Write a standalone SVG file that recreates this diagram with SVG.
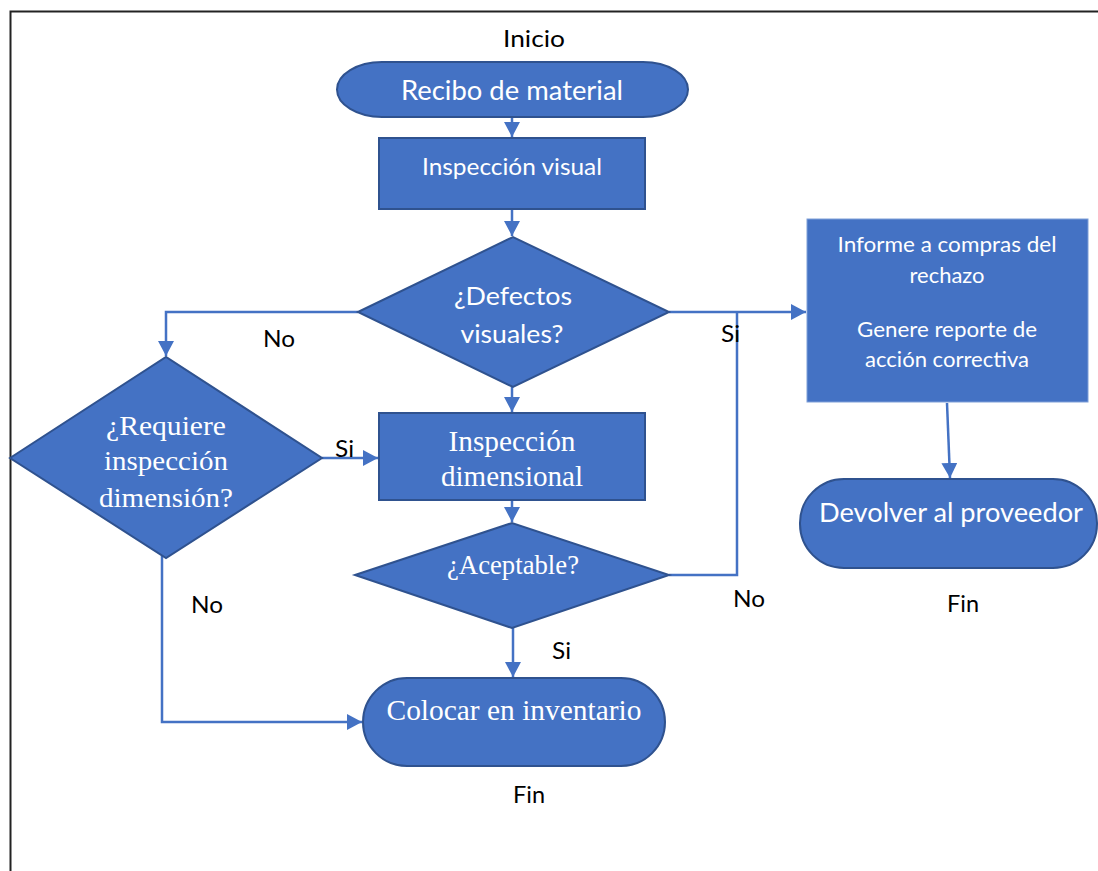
<svg xmlns="http://www.w3.org/2000/svg" width="1098" height="871" viewBox="0 0 1098 871">
  <style>
    .shape { fill: #4472C4; stroke: #2F528F; stroke-width: 2; }
    .plain { fill: #4472C4; stroke: #7F9FD8; stroke-width: 1; }
    .sans-w { font-family: Lato, "Open Sans", "Liberation Sans", sans-serif; fill: #FFFFFF; text-anchor: middle; }
    .serif-w { font-family: "Liberation Serif", "DejaVu Serif", serif; fill: #FFFFFF; text-anchor: middle; }
    .lbl { font-family: Lato, "Open Sans", "Liberation Sans", sans-serif; fill: #000000; font-size: 24px; }
    .conn { fill: none; stroke: #4472C4; stroke-width: 2.5; }
  </style>
  <defs>
    <marker id="arrow" markerUnits="userSpaceOnUse" markerWidth="16" markerHeight="16" refX="15" refY="8" orient="auto">
      <path d="M0,0 L15,8 L0,16 Z" fill="#4472C4"/>
    </marker>
  </defs>

  <rect width="1098" height="871" fill="#FFFFFF"/>
  <!-- page frame -->
  <path d="M10.5,871 V11.5 H1098" fill="none" stroke="#222222" stroke-width="2"/>

  <!-- connectors -->
  <g id="connectors">
    <path class="conn" d="M512,117 V137" marker-end="url(#arrow)"/>
    <path class="conn" d="M512,209 V236" marker-end="url(#arrow)"/>
    <path class="conn" d="M358,312 H166 V356" marker-end="url(#arrow)"/>
    <path class="conn" d="M669,312 H806" marker-end="url(#arrow)"/>
    <path class="conn" d="M512,387 V412" marker-end="url(#arrow)"/>
    <path class="conn" d="M322,458 H378" marker-end="url(#arrow)"/>
    <path class="conn" d="M512,500 V522" marker-end="url(#arrow)"/>
    <path class="conn" d="M669,575 H737 V312"/>
    <path class="conn" d="M513,628 V677" marker-end="url(#arrow)"/>
    <path class="conn" d="M162,556 V722 H362" marker-end="url(#arrow)"/>
    <path class="conn" d="M947,403 L950,478" marker-end="url(#arrow)"/>
  </g>

  <!-- connector labels -->
  <g id="labels">
    <text class="lbl" x="534" y="47" text-anchor="middle" textLength="62" lengthAdjust="spacingAndGlyphs">Inicio</text>
    <text class="lbl" x="263" y="347" textLength="32" lengthAdjust="spacingAndGlyphs">No</text>
    <text class="lbl" x="335" y="457" textLength="19" lengthAdjust="spacingAndGlyphs">Si</text>
    <text class="lbl" x="721" y="342" textLength="19" lengthAdjust="spacingAndGlyphs">Si</text>
    <text class="lbl" x="191" y="613" textLength="32" lengthAdjust="spacingAndGlyphs">No</text>
    <text class="lbl" x="733" y="607" textLength="32" lengthAdjust="spacingAndGlyphs">No</text>
    <text class="lbl" x="552" y="659" textLength="19" lengthAdjust="spacingAndGlyphs">Si</text>
    <text class="lbl" x="529" y="803" text-anchor="middle" textLength="32" lengthAdjust="spacingAndGlyphs">Fin</text>
    <text class="lbl" x="963" y="612" text-anchor="middle" textLength="32" lengthAdjust="spacingAndGlyphs">Fin</text>
  </g>

  <g id="recibo">
    <rect class="shape" x="337" y="62" width="351" height="55" rx="45" ry="27.5"/>
    <text class="sans-w" x="512" y="100" font-size="27" textLength="222" lengthAdjust="spacingAndGlyphs">Recibo de material</text>
  </g>

  <g id="insp-visual">
    <rect class="shape" x="379" y="138" width="266" height="71"/>
    <text class="sans-w" x="512" y="175" font-size="24" textLength="180" lengthAdjust="spacingAndGlyphs">Inspección visual</text>
  </g>

  <g id="defectos">
    <polygon class="shape" points="358,312 513,237 669,312 513,387"/>
    <text class="sans-w" x="513" y="305" font-size="24.5" textLength="118" lengthAdjust="spacingAndGlyphs">¿Defectos</text>
    <text class="sans-w" x="512" y="343" font-size="24.5" textLength="103" lengthAdjust="spacingAndGlyphs">visuales?</text>
  </g>

  <g id="requiere">
    <polygon class="shape" points="10,458 166,357 322,458 166,558"/>
    <text class="serif-w" x="166" y="435" font-size="28" textLength="120" lengthAdjust="spacingAndGlyphs">¿Requiere</text>
    <text class="serif-w" x="166" y="470" font-size="28" textLength="124" lengthAdjust="spacingAndGlyphs">inspección</text>
    <text class="serif-w" x="166" y="507" font-size="28" textLength="134" lengthAdjust="spacingAndGlyphs">dimensión?</text>
  </g>

  <g id="insp-dimensional">
    <rect class="shape" x="379" y="413" width="266" height="87"/>
    <text class="serif-w" x="512" y="451" font-size="29" textLength="127" lengthAdjust="spacingAndGlyphs">Inspección</text>
    <text class="serif-w" x="512" y="486" font-size="29" textLength="142" lengthAdjust="spacingAndGlyphs">dimensional</text>
  </g>

  <g id="aceptable">
    <polygon class="shape" points="355,575 512,523 669,575 512,628"/>
    <text class="serif-w" x="513" y="574" font-size="27" textLength="132" lengthAdjust="spacingAndGlyphs">¿Aceptable?</text>
  </g>

  <g id="colocar">
    <rect class="shape" x="363" y="678" width="302" height="88" rx="44" ry="44"/>
    <text class="serif-w" x="514" y="720" font-size="29" textLength="255" lengthAdjust="spacingAndGlyphs">Colocar en inventario</text>
  </g>

  <g id="informe">
    <rect class="plain" x="807" y="219" width="281" height="183"/>
    <text class="sans-w" x="947" y="252" font-size="21.5" textLength="219" lengthAdjust="spacingAndGlyphs">Informe a compras del</text>
    <text class="sans-w" x="947" y="283" font-size="21.5" textLength="75" lengthAdjust="spacingAndGlyphs">rechazo</text>
    <text class="sans-w" x="947" y="337" font-size="21.5" textLength="180" lengthAdjust="spacingAndGlyphs">Genere reporte de</text>
    <text class="sans-w" x="947" y="367" font-size="21.5" textLength="164" lengthAdjust="spacingAndGlyphs">acción correctiva</text>
  </g>

  <g id="devolver">
    <rect class="shape" x="800" y="479" width="297" height="89" rx="44" ry="44"/>
    <text class="sans-w" x="951" y="522" font-size="26.5" textLength="264" lengthAdjust="spacingAndGlyphs">Devolver al proveedor</text>
  </g>
</svg>
